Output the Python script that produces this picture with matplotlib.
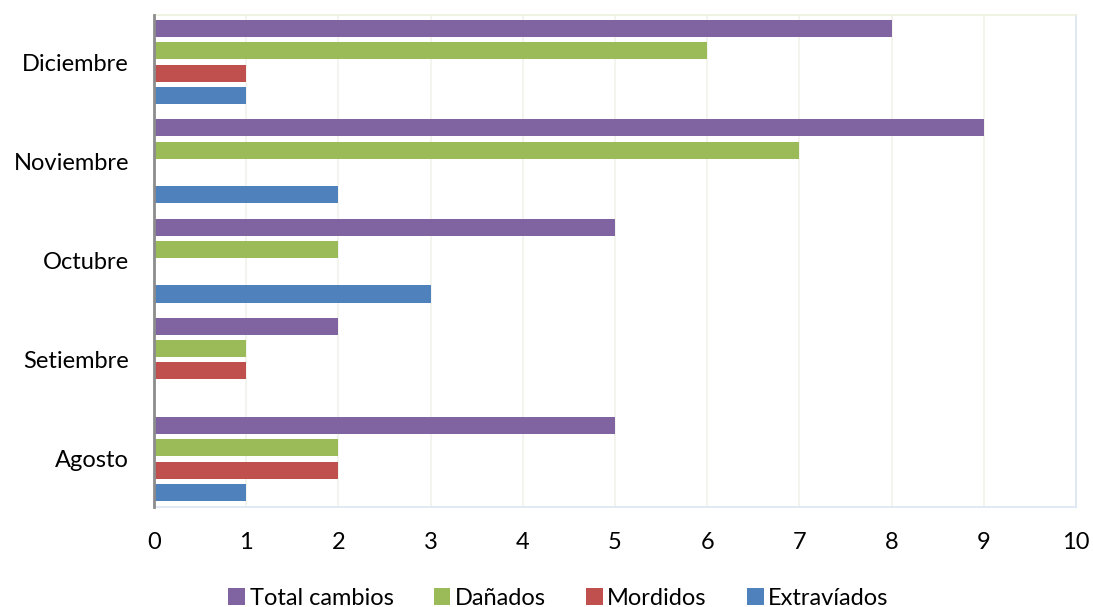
import matplotlib
matplotlib.use("Agg")
import matplotlib.pyplot as plt
import numpy as np

months = ["Agosto", "Setiembre", "Octubre", "Noviembre", "Diciembre"]
total_cambios = [5, 2, 5, 9, 8]
danados = [2, 1, 2, 7, 6]
mordidos = [2, 1, 0, 0, 1]
extraviados = [1, 0, 3, 2, 1]
x_ticks = list(range(0, 11))

series = [
    ("Total cambios", total_cambios, "#8064A2"),
    ("Dañados", danados, "#9BBB59"),
    ("Mordidos", mordidos, "#C0504D"),
    ("Extravíados", extraviados, "#4F81BD"),
]

plt.rcParams["font.family"] = ["Lato", "DejaVu Sans"]

fig = plt.figure(figsize=(10.93, 6.07), dpi=100)
ax = fig.add_axes([0.1409, 0.1647, 0.8436, 0.8106])

pitch = 0.225
height = 0.172
y = np.arange(len(months))
for i, (name, vals, color) in enumerate(series):
    offset = (1.5 - i) * pitch
    ax.barh(y + offset, vals, height=height, color=color, label=name,
            linewidth=0, zorder=3)

ax.set_xlim(0, 10)
ax.set_ylim(-0.485, 4.475)
ax.set_xticks(x_ticks)
ax.set_yticks(y)
ax.set_yticklabels(months)
ax.tick_params(axis="both", length=0, labelsize=17, colors="#000000")
ax.tick_params(axis="x", pad=18)
ax.tick_params(axis="y", pad=18)

ax.grid(axis="x", color="#F0F2EA", linewidth=1.2, zorder=0)
ax.set_axisbelow(True)

ax.spines["left"].set_color("#8C8C8C")
ax.spines["left"].set_linewidth(2)
ax.spines["left"].set_zorder(4)
ax.spines["top"].set_color("#EBF1DE")
ax.spines["right"].set_color("#DCE6F2")
ax.spines["bottom"].set_color("#DCE6F2")
for s in ("top", "right", "bottom"):
    ax.spines[s].set_linewidth(1.2)

handles, labels = ax.get_legend_handles_labels()
fig.legend(handles, labels, loc="lower center", ncol=4, frameon=False,
           bbox_to_anchor=(0.511, -0.038), fontsize=17, handlelength=0.7,
           handleheight=0.7, handletextpad=0.2, columnspacing=1.7)

fig.savefig("out.png", dpi=100, facecolor="white")
